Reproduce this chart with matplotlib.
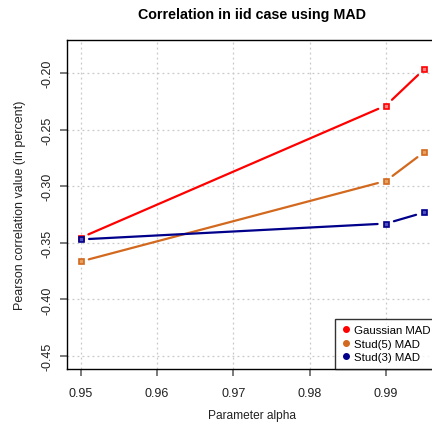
import matplotlib
matplotlib.use("Agg")
import matplotlib.pyplot as plt
from matplotlib.lines import Line2D

plt.rcParams['font.family'] = ['Liberation Sans', 'DejaVu Sans']

# data
alpha = [0.95, 0.99, 0.995]
gauss_mad = [-0.3455, -0.2287, -0.1967]
stud5_mad = [-0.3665, -0.2953, -0.2699]
stud3_mad = [-0.3470, -0.3330, -0.3232]

series_names = ['Gaussian MAD', 'Stud(5) MAD', 'Stud(3) MAD']
series_colors = ['#ff0000', '#d2691e', '#00008b']
face_colors = ['#ff8080', '#e8a060', '#5050c0']

xticks = [0.95, 0.96, 0.97, 0.98, 0.99]
yticks = [-0.45, -0.40, -0.35, -0.30, -0.25, -0.20]

W, H = 432, 427
fig = plt.figure(figsize=(W / 100, H / 100), dpi=100)
ax = fig.add_axes([67 / W, 1 - 370 / H, 370.8 / W, 329 / H])
ax.set_xlim(0.9482, 0.9968)
ax.set_ylim(-0.4615, -0.1708)

ax.grid(True, color='#c8c8c8', linestyle=(0, (1.5, 2.5)), linewidth=0.9)
ax.set_axisbelow(True)

# R style type="b": points joined by lines with a gap around each point
for ys, col, fc in zip([gauss_mad, stud5_mad, stud3_mad], series_colors, face_colors):
    for i in range(len(alpha) - 1):
        ax.annotate('', xy=(alpha[i + 1], ys[i + 1]), xytext=(alpha[i], ys[i]),
                    arrowprops=dict(arrowstyle='-', color=col, lw=1.6,
                                    shrinkA=6, shrinkB=6), zorder=3)
    ax.plot(alpha, ys, linestyle='none', marker='s', ms=3.6,
            mfc=fc, mec=col, mew=1.2, zorder=4)

ax.set_xticks(xticks)
ax.set_xticklabels(['%.2f' % v for v in xticks])
ax.set_yticks(yticks)
ax.set_yticklabels(['%.2f' % v for v in yticks], rotation=90, va='center')
ax.tick_params(axis='both', direction='out', length=5, width=1.3,
               color='#707070', labelsize=9, labelcolor='#222222')
ax.tick_params(axis='x', pad=8)
ax.tick_params(axis='y', pad=5)
for sp in ax.spines.values():
    sp.set_linewidth(1.0)
    sp.set_color('black')

fig.text(252 / W, 1 - 15 / H, 'Correlation in iid case using MAD',
         ha='center', va='center', fontsize=10.3, fontweight='bold')
fig.text(252 / W, 1 - 416 / H, 'Parameter alpha', ha='center', va='center',
         fontsize=8.6, color='#222222')
fig.text(20 / W, 1 - 205 / H, 'Pearson correlation value (in percent)',
         ha='center', va='center', rotation=90, fontsize=9, color='#222222')

handles = [Line2D([], [], linestyle='none', marker='o', ms=4, color=c)
           for c in series_colors]
leg = ax.legend(handles, series_names, loc='lower right', bbox_to_anchor=(1.0, 0.0),
                fontsize=8.2, frameon=True, fancybox=False, borderaxespad=0,
                handletextpad=0.25, handlelength=0.9, labelspacing=0.3,
                borderpad=0.6)
leg.get_frame().set_edgecolor('black')
leg.get_frame().set_linewidth(1.0)

fig.savefig('out.png', dpi=100)
